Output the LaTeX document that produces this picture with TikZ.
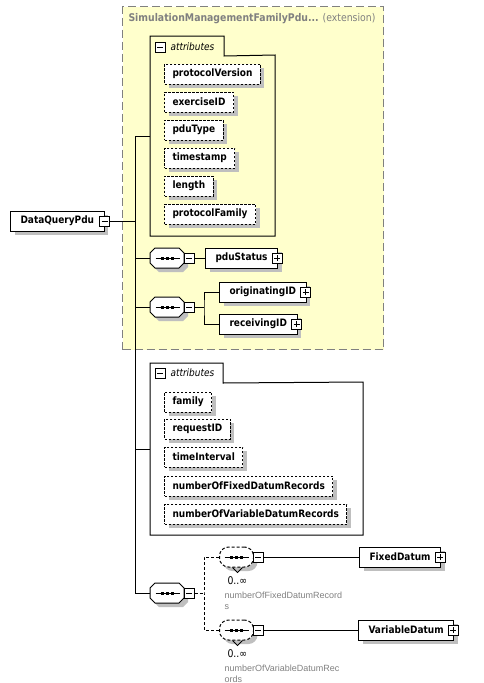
\documentclass[tikz,border=0pt]{standalone}
\usepackage{fontspec}
\setmainfont{DejaVu Sans}[FakeStretch=0.88]
\newfontfamily\notefont{Liberation Sans}
\usetikzlibrary{shadows}
\definecolor{extyellow}{RGB}{255,255,204}
\definecolor{extgray}{RGB}{128,128,128}

\begin{document}
\begin{tikzpicture}[x=1pt,y=-1pt,line width=1pt,
  every node/.style={font=\fontsize{10.2}{12}\selectfont},
  shade/.style={drop shadow={shadow xshift=4pt,shadow yshift=-4pt,fill=black!25,opacity=1}},
  optline/.style={dash pattern=on 3pt off 2pt},
  extbox/.style={draw=extgray,fill=extyellow,dash pattern=on 8pt off 4pt,anchor=north west,inner sep=0pt},
  group/.style={anchor=north west,inner sep=0pt},
  elem/.style={draw,fill=white,shade,anchor=west,minimum height=20pt,inner xsep=10pt,inner ysep=0pt,
    font=\fontsize{10.2}{12}\selectfont\bfseries},
  attr/.style={elem,inner xsep=8pt,dash pattern=on 2.5pt off 1.5pt},
  minus/.style={draw,fill=white,solid,sharp corners,inner sep=0pt,minimum size=10pt,
    path picture={\draw[black] ([xshift=2pt]path picture bounding box.west) -- ([xshift=-2pt]path picture bounding box.east);}},
  plus/.style={draw,fill=white,solid,inner sep=0pt,minimum size=10pt,
    path picture={\draw[black] ([xshift=2pt]path picture bounding box.west) -- ([xshift=-2pt]path picture bounding box.east);
      \draw[black] ([yshift=2pt]path picture bounding box.south) -- ([yshift=-2pt]path picture bounding box.north);}},
  seqpic/.style={path picture={\draw[black,solid] ([xshift=-12pt]path picture bounding box.center) -- ([xshift=12pt]path picture bounding box.center);
      \foreach \d in {-5,0,5} \fill[black,sharp corners] ([xshift=\d pt]path picture bounding box.center) ++(-1.5pt,-1.5pt) rectangle ++(3pt,3pt);}},
  seq/.style={rectangle,minimum width=34pt,minimum height=20pt,inner sep=0pt,anchor=west},
  repseq/.style={rectangle,rounded corners=9pt,draw,fill=white,shade,optline,
    minimum width=34pt,minimum height=20pt,inner sep=0pt,anchor=west,seqpic},
  tablabel/.style={anchor=west,inner sep=0pt,font=\fontsize{10.2}{12}\selectfont\itshape},
  occurs/.style={anchor=west,inner sep=0pt,font=\fontsize{10.6}{12}\selectfont},
  note/.style={anchor=west,inner sep=0pt,align=left,text=extgray,font=\notefont\fontsize{9}{10.5}\selectfont}]
\useasboundingbox (0,0) rectangle (484,683);

\node[extbox,minimum width=261pt,minimum height=343pt] (ext) at (122,6) {};
\node[anchor=west,inner sep=0pt,text=extgray,font=\fontsize{10.6}{12}\selectfont] (extTitle) at (128,19)
  {\textbf{SimulationManagementFamilyPdu...} (extension)};

\node[elem] (DataQueryPdu) at (10,221) {DataQueryPdu\hspace{2pt}};
\node[minus] (DataQueryPduM) at (DataQueryPdu.east) {};

\node[group,minimum width=124pt,minimum height=180pt] (attrA) at (150,55) {};
\node[group,minimum width=73pt,minimum height=19pt] (attrAtab) at (150,36) {};
\node[minus] (attrAm) at (160,47) {};
\node[tablabel] (attrAlabel) at (170,47) {attributes};
\node[attr] (protocolVersion) at (164,74) {protocolVersion};
\node[attr] (exerciseID) at (164,102) {exerciseID};
\node[attr] (pduType) at (164,130) {pduType};
\node[attr] (timestamp) at (164,158) {timestamp};
\node[attr] (length) at (164,186) {length};
\node[attr] (protocolFamily) at (164,214) {protocolFamily};

\node[seq] (seq1) at (150,258) {};
\node[seq] (seq2) at (150,307) {};
\node[seq] (seq3) at (150,593) {};
\foreach \s in {seq1,seq2,seq3}{
  \fill[black!25] ([shift={(4,4)}]\s.west) ++(0,-5) -- ++(5,-5) -- ++(24,0) -- ++(5,5) -- ++(0,10)
    -- ++(-5,5) -- ++(-24,0) -- ++(-5,-5) -- cycle;
  \filldraw[fill=white] (\s.west) ++(0,-5) -- ++(5,-5) -- ++(24,0) -- ++(5,5) -- ++(0,10)
    -- ++(-5,5) -- ++(-24,0) -- ++(-5,-5) -- cycle;
  \draw ([xshift=-12pt]\s.center) -- ([xshift=12pt]\s.center);
  \foreach \d in {-5,0,5}
    \fill ([xshift=\d pt]\s.center) ++(-1.5,-1.5) rectangle ++(3,3);
}
\node[minus] (seq1m) at (189,258) {};
\node[minus] (seq2m) at (189,307) {};
\node[minus] (seq3m) at (189,593) {};

\node[elem] (pduStatus) at (205,258) {pduStatus\hspace{2pt}};
\node[plus] (pduStatusP) at ([xshift=-1pt]pduStatus.east) {};
\node[elem] (originatingID) at (219,292) {originatingID\hspace{2pt}};
\node[plus] (originatingIDP) at ([xshift=-1pt]originatingID.east) {};
\node[elem] (receivingID) at (219,324) {receivingID\hspace{2pt}};
\node[plus] (receivingIDP) at ([xshift=-1pt]receivingID.east) {};

\node[group,minimum width=212pt,minimum height=152pt] (attrB) at (150,382) {};
\node[group,minimum width=72pt,minimum height=19pt] (attrBtab) at (150,363) {};
\node[minus] (attrBm) at (160,373) {};
\node[tablabel] (attrBlabel) at (170,373) {attributes};
\node[attr] (family) at (164,402) {family};
\node[attr] (requestID) at (164,429) {requestID};
\node[attr] (timeInterval) at (164,457) {timeInterval};
\node[attr] (numberOfFixedDatumRecords) at (164,486) {numberOfFixedDatumRecords};
\node[attr] (numberOfVariableDatumRecords) at (164,514) {numberOfVariableDatumRecords};

\node[repseq] (seqA) at (219,557) {};
\node[minus] (seqAm) at (258,557) {};
\node[occurs] (seqAocc) at (227,581) {0..∞};
\node[note] (seqAnote) at (224,601) {numberOfFixedDatumRecord\\s};
\node[elem] (FixedDatum) at (359,557) {FixedDatum\hspace{2pt}};
\node[plus] (FixedDatumP) at ([xshift=-1pt]FixedDatum.east) {};

\node[repseq] (seqB) at (219,630) {};
\node[minus] (seqBm) at (258,630) {};
\node[occurs] (seqBocc) at (227,654) {0..∞};
\node[note] (seqBnote) at (224,674) {numberOfVariableDatumRec\\ords};
\node[elem] (VariableDatum) at (358,630) {VariableDatum\hspace{2pt}};
\node[plus] (VariableDatumP) at ([xshift=-1pt]VariableDatum.east) {};

\coordinate (jA) at (135,136);
\coordinate (jB) at (135,449);
\coordinate (jC) at (135,593);
\coordinate (j2) at (204,307);
\coordinate (j3) at (204,593);

\draw (attrA.south west) -- (attrAtab.north west) -- (attrAtab.north east) -- (attrAtab.south east)
  -- (attrA.north east) -- (attrA.south east) -- cycle;
\draw (attrB.south west) -- (attrBtab.north west) -- (attrBtab.north east) -- (attrBtab.south east)
  -- (attrB.north east) -- (attrB.south east) -- cycle;
\draw ([xshift=-4pt]seqA.south) -- ([xshift=1pt,yshift=-5pt]seqA.south) -- ([xshift=6pt]seqA.south);
\draw ([xshift=-4pt]seqB.south) -- ([xshift=1pt,yshift=-5pt]seqB.south) -- ([xshift=6pt]seqB.south);

\draw (DataQueryPduM.east) -- (DataQueryPduM.east -| jA);
\draw (jA) -- (jC);
\draw (jA) -- (jA -| attrA.west);
\draw (jA |- seq1.west) -- (seq1.west);
\draw (jA |- seq2.west) -- (seq2.west);
\draw (jB) -- (jB -| attrB.west);
\draw (jC) -- (seq3.west);

\draw (seq1m.east) -- (pduStatus.west);
\draw (seq2m.east) -- (j2);
\draw (originatingID.west) -| (j2) |- (receivingID.west);

\draw[optline] (seq3m.east) -- (j3);
\draw[optline] (seqA.west) -| (j3) |- (seqB.west);
\draw (seqAm.east) -- (FixedDatum.west);
\draw (seqBm.east) -- (VariableDatum.west);
\end{tikzpicture}
\end{document}
